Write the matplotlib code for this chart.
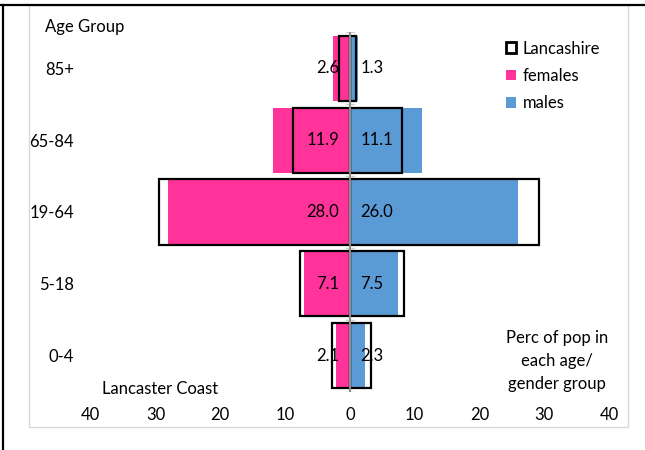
import matplotlib.pyplot as plt
from matplotlib.patches import Patch, Rectangle
from matplotlib.lines import Line2D

# age groups bottom -> top
ages = ['0-4', '5-18', '19-64', '65-84', '85+']
females = [2.1, 7.1, 28.0, 11.9, 2.6]
males = [2.3, 7.5, 26.0, 11.1, 1.3]
lanc_females = [2.8, 7.7, 29.5, 8.8, 1.6]
lanc_males = [3.2, 8.4, 29.2, 8.1, 1.0]
xticks = [-40, -30, -20, -10, 0, 10, 20, 30, 40]

pink = '#FF3399'
blue = '#5B9BD5'

plt.rcParams['font.family'] = ['Lato', 'DejaVu Sans']
plt.rcParams['font.size'] = 12

fig = plt.figure(figsize=(6.45, 4.5), dpi=100)
W, H = 645, 450

# chart frame: light grey chart area + black lines on top and left
fig.patches.append(Rectangle((28.5 / W, 1 - 427 / H), (628 - 28.5) / W, (427 - 5) / H,
                             transform=fig.transFigure, facecolor='none',
                             edgecolor='#d9d9d9', linewidth=1))
fig.add_artist(Line2D([0, 1], [1 - 5 / H, 1 - 5 / H], transform=fig.transFigure,
                      color='black', linewidth=1.6))
fig.add_artist(Line2D([3 / W, 3 / W], [0, 1 - 5 / H], transform=fig.transFigure,
                      color='black', linewidth=1.6))

ax = fig.add_axes([90.7 / W, 1 - 391.6 / H, (609 - 90.7) / W, (391.6 - 32.4) / H])
y = list(range(len(ages)))

ax.barh(y, [-v for v in females], height=0.905, color=pink, zorder=2)
ax.barh(y, males, height=0.905, color=blue, zorder=2)
ax.barh(y, [-v for v in lanc_females], height=0.905, facecolor='none',
        edgecolor='black', linewidth=1.6, zorder=3)
ax.barh(y, lanc_males, height=0.905, facecolor='none',
        edgecolor='black', linewidth=1.6, zorder=3)

ax.axvline(0, color='#8c8c8c', linewidth=1.5, zorder=4)
for b in [i + 0.5 for i in range(-1, len(ages))]:
    ax.plot([-0.6, 0.6], [b, b], color='#d0d0d0', linewidth=1, zorder=1)

for yi, f, m in zip(y, females, males):
    ax.annotate(f'{f:.1f}', (0, yi), xytext=(-7.6, 0), textcoords='offset points',
                ha='right', va='center', zorder=5)
    ax.annotate(f'{m:.1f}', (0, yi), xytext=(7.6, 0), textcoords='offset points',
                ha='left', va='center', zorder=5)

ax.set_xlim(-40, 40)
ax.set_ylim(-0.5, len(ages) - 0.5)
ax.set_xticks(xticks)
ax.set_xticklabels([str(abs(t)) for t in xticks])
ax.set_yticks(y)
ax.set_yticklabels(ages)
ax.tick_params(axis='x', length=0, pad=11)
ax.tick_params(axis='y', length=0, pad=12)
for s in ax.spines.values():
    s.set_visible(False)

handles = [Patch(facecolor='white', edgecolor='black', linewidth=2),
           Patch(facecolor=pink), Patch(facecolor=blue)]
ax.legend(handles, ['Lancashire', 'females', 'males'], loc='upper left',
          bbox_to_anchor=(506 / W, 1 - 40.5 / H), bbox_transform=fig.transFigure,
          frameon=False, borderpad=0, borderaxespad=0, handlelength=0.6,
          handleheight=0.6, handletextpad=0.4, labelspacing=0.68)

fig.text(45 / W, 1 - 27 / H, 'Age Group', ha='left', va='center')
fig.text(160 / W, 1 - 389 / H, 'Lancaster Coast', ha='center', va='center')
fig.text(557 / W, 1 - 361 / H, 'Perc of pop in\neach age/\ngender group',
         ha='center', va='center', linespacing=1.5)

fig.savefig('out.png', dpi=100)
